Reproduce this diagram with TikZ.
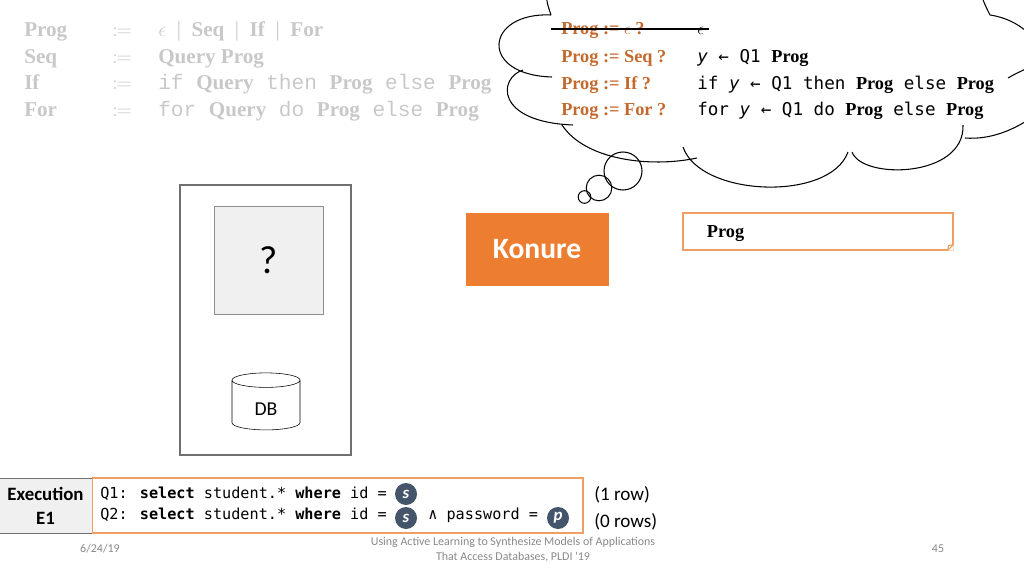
\documentclass[tikz,border=0pt]{standalone}
\usepackage{mathtools}
\usepackage{fontspec}
\setmainfont{Liberation Serif}
\newfontfamily\calibri{Carlito}
\newfontfamily\consolas{DejaVu Sans Mono}
\newfontfamily\courier{Liberation Mono}
\usepackage{tikz}
\usetikzlibrary{shapes.geometric,positioning,calc}
\definecolor{gramgray}{RGB}{200, 200, 200}
\definecolor{thoughtorange}{RGB}{196, 105, 45}
\definecolor{konureorange}{RGB}{237, 125, 49}
\definecolor{lightorange}{RGB}{240, 158, 100}
\definecolor{slate}{RGB}{68, 84, 106}
\definecolor{boxgray}{RGB}{112, 112, 112}
\definecolor{panelfill}{RGB}{240, 240, 240}
\definecolor{footgray}{RGB}{137, 137, 137}
\newcommand{\pg}{{\rmfamily\bfseries\fontsize{13}{15}\selectfont Prog}}

\begin{document}
\begin{tikzpicture}[x=0.025cm, y=-0.025cm,
    gram/.style={anchor=base west, inner sep=0pt, text=gramgray, font=\fontsize{15}{18}\selectfont},
    guess/.style={anchor=base west, inner sep=0pt, text=thoughtorange, font=\bfseries\fontsize{13}{15}\selectfont},
    answer/.style={anchor=base west, inner sep=0pt, font=\consolas\fontsize{12.5}{15}\selectfont},
    code/.style={anchor=base west, inner sep=0pt, font=\consolas\fontsize{10.8}{13}\selectfont},
    badge/.style={circle, fill=slate, inner sep=0pt, minimum size=0.55cm, text=white, font=\calibri\bfseries\itshape\fontsize{12}{12}\selectfont},
    rowcount/.style={anchor=base west, inner sep=0pt, font=\calibri\fontsize{13.6}{16}\selectfont},
    footer/.style={text=footgray, align=center, font=\calibri\fontsize{8.5}{10.7}\selectfont},
    cloudline/.style={line width=0.75pt}]
    \useasboundingbox (0,0) rectangle (1024,576);

    % Grammar (greyed out)
    \node[gram] (G_PROG) at (24,37) {\textbf{Prog}};
    \node[gram] (G_SEQ) at (24,64) {\textbf{Seq}};
    \node[gram] (G_IF) at (24,90) {\textbf{If}};
    \node[gram] (G_FOR) at (24,117) {\textbf{For}};
    \foreach \y/\n in {37/PROG,64/SEQ,90/IF,117/FOR}
        \node[gram] (DEF_\n) at (112,\y) {$\coloneqq$};
    \node[gram] (R_PROG) at (158,37) {$\epsilon$\enspace|\enspace\textbf{Seq}\enspace|\enspace\textbf{If}\enspace|\enspace\textbf{For}};
    \node[gram] (R_SEQ) at (158,64) {\textbf{Query Prog}};
    \node[gram] (R_IF) at (158,90) {{\courier if }\textbf{Query}{\courier\ then }\textbf{Prog}{\courier\ else }\textbf{Prog}};
    \node[gram] (R_FOR) at (158,117) {{\courier for }\textbf{Query}{\courier\ do }\textbf{Prog}{\courier\ else }\textbf{Prog}};

    % Thought cloud
    \begin{scope}
        \clip (0,0) rectangle (1024,576);
        \draw[cloudline] (546,-8) .. controls (547,3) .. (551,15)
            (551,15) .. controls (485,12) and (478,75) .. (552,77)
            (523,70) .. controls (498,78) and (495,122) .. (573,125)
            (562,125) .. controls (585,160) and (650,168) .. (697,158)
            (683,147) .. controls (700,197) and (830,202) .. (848,152)
            (852,152) .. controls (862,180) and (965,178) .. (963,125)
            (965,138) .. controls (990,140) and (1015,130) .. (1035,115)
            (1008,78) .. controls (1015,74) .. (1030,67)
            (980,-8) .. controls (985,5) .. (990,15)
            (990,15) .. controls (1010,18) and (1025,28) .. (1035,40);
    \end{scope}
    \draw[cloudline] (623,171) circle [radius=19];
    \draw[cloudline] (599,188) circle [radius=12.8];
    \draw[cloudline] (584.5,197) circle [radius=6.3];

    \node[guess] (Q_EPS) at (561,35) {Prog := $\epsilon$ ?};
    \node[guess] (Q_SEQ) at (561,63) {Prog := Seq ?};
    \node[guess] (Q_IF) at (561,89.5) {Prog := If ?};
    \node[guess] (Q_FOR) at (561,116) {Prog := For ?};

    \node[answer] (A_EPS) at (697,35) {$\epsilon$};
    \node[answer] (A_SEQ) at (697,63) {\textit{y} ← Q1 \pg};
    \node[answer] (A_IF) at (697,89.5) {if \textit{y} ← Q1 then \pg{} else \pg};
    \node[answer] (A_FOR) at (697,116) {for \textit{y} ← Q1 do \pg{} else \pg};

    \draw[line width=2pt] ($(Q_EPS.base west)+(-10,-6)$) -- ($(A_EPS.base east)+(5,-6)$);

    % Application under test
    \node[draw=boxgray, line width=0.9pt, minimum width=4.275cm, minimum height=6.75cm] (SYSTEM) at (265.5,320) {};
    \node[draw=boxgray!80, fill=panelfill, minimum width=2.725cm, minimum height=2.7cm, font=\calibri\fontsize{28}{30}\selectfont] (APP) at (268.5,260) {?};
    \node[cylinder, shape border rotate=90, draw, aspect=0.45, minimum width=1.7cm, minimum height=1.425cm, text height=12.2pt, text depth=0pt, font=\calibri\fontsize{14}{16}\selectfont] (DB) at (266,407) {DB};

    % Konure and the synthesized program
    \node[fill=konureorange, draw=konureorange, minimum width=3.55cm, minimum height=1.8cm, text=white, font=\calibri\bfseries\fontsize{21}{24}\selectfont] (KONURE) at (537,249) {Konure};
    \node[draw=lightorange, line width=0.8pt, minimum height=0.925cm, inner xsep=0.6cm, text width=5.55cm, text height=2ex, text depth=0pt, align=left, font=\bfseries\fontsize{13}{15}\selectfont] (PROG_BOX) at (818,231.5) {Prog};
    \fill[white] (PROG_BOX.south east) -- ++(-6,0) -- ++(6,-6) -- cycle;
    \draw[lightorange, line width=0.8pt] ($(PROG_BOX.south east)+(-6,0)$) -- ++(6,-6)
        ($(PROG_BOX.south east)+(-6,0)$) -- ++(1,-5) -- ++(5,-1);

    % Execution trace
    \node[draw=boxgray, fill=panelfill, minimum width=2.325cm, minimum height=1.375cm, align=center, font=\calibri\bfseries\fontsize{13.4}{17}\selectfont] (EXEC) at (45.5,505.5) {Execution\\E1};
    \node[draw=lightorange, line width=0.8pt, minimum width=12.25cm, minimum height=1.375cm, right=0pt of EXEC] (TRACE) {};
    \node[code] (Q1) at (100,498.5) {Q1: \textbf{select} student.* \textbf{where} id =};
    \node[code] (Q2) at (100,519.5) {Q2: \textbf{select} student.* \textbf{where} id =};
    \node[badge] (S_ONE) at (406,494) {s};
    \node[badge] (S_TWO) at (406,518) {s};
    \node[code] (PASSWORD) at (428,519.5) {∧ password =};
    \node[badge] (P_TWO) at (558,518) {p};
    \node[rowcount] (ROWS_ONE) at (594,500) {(1 row)};
    \node[rowcount] (ROWS_TWO) at (594,527) {(0 rows)};

    % Footer
    \node[footer] (DATE) at (100,549) {6/24/19};
    \node[footer] (TITLE) at (513,550) {Using Active Learning to Synthesize Models of Applications\\That Access Databases, PLDI '19};
    \node[footer] (PAGE) at (938,549) {45};
\end{tikzpicture}
\end{document}
